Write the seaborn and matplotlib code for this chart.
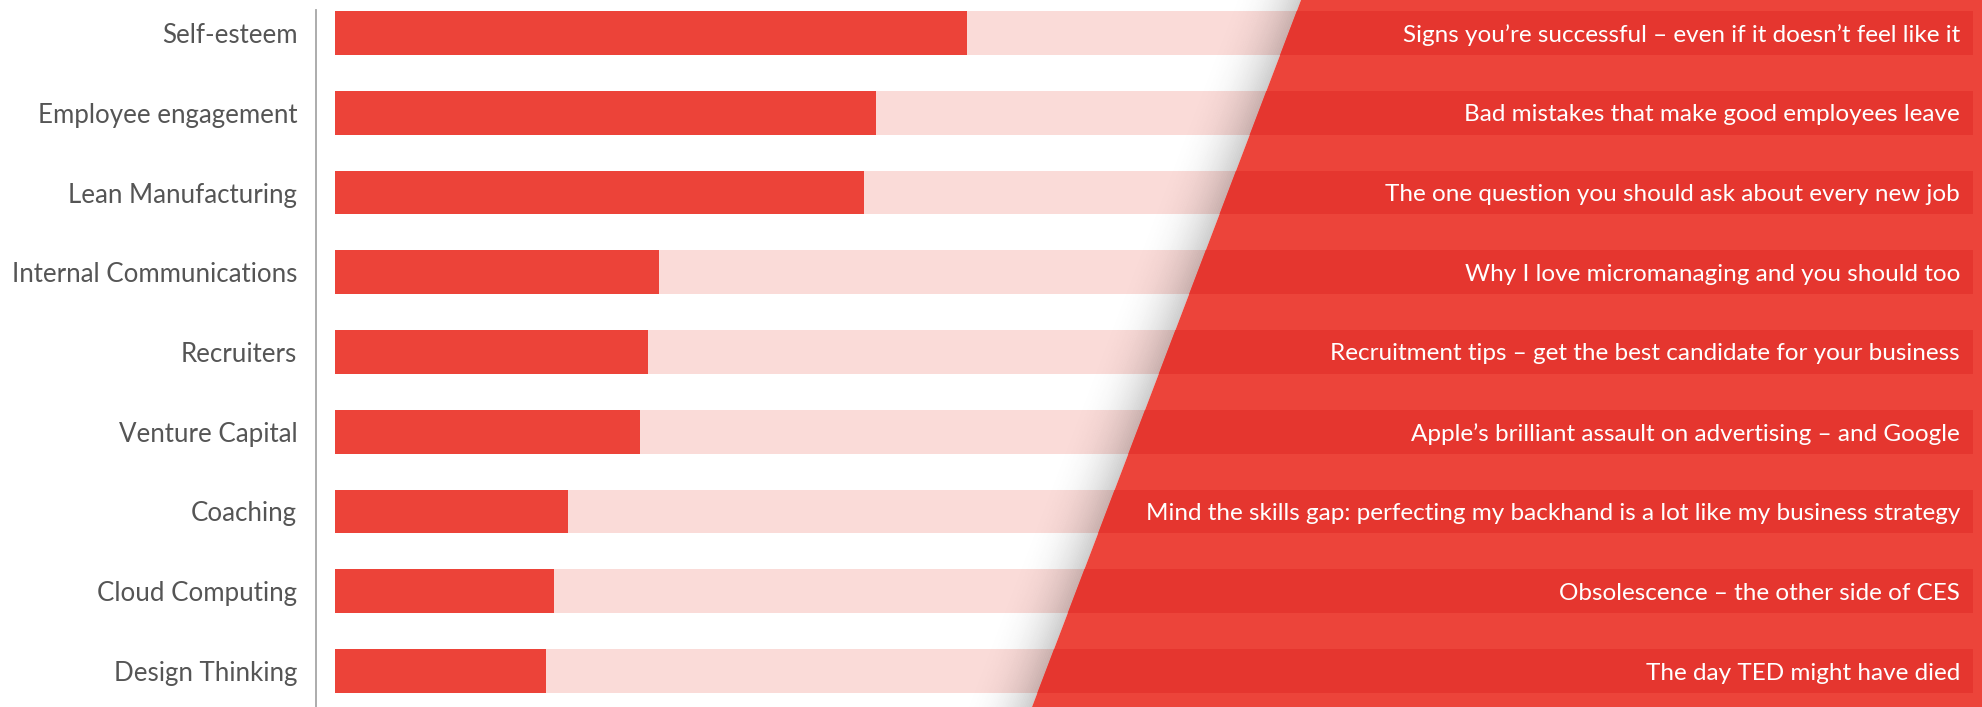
import numpy as np
import pandas as pd
import matplotlib
matplotlib.use("Agg")
import matplotlib.pyplot as plt
from matplotlib.patches import Polygon
from matplotlib.collections import PolyCollection
import seaborn as sns

# Topics ranked by share of reads, with the top article for each topic
topics = [
    "Self-esteem",
    "Employee engagement",
    "Lean Manufacturing",
    "Internal Communications",
    "Recruiters",
    "Venture Capital",
    "Coaching",
    "Cloud Computing",
    "Design Thinking",
]
shares = [38.6, 33.0, 32.3, 19.8, 19.1, 18.6, 14.2, 13.4, 12.9]
scale_max = 100
top_articles = [
    "Signs you’re successful – even if it doesn’t feel like it",
    "Bad mistakes that make good employees leave",
    "The one question you should ask about every new job",
    "Why I love micromanaging and you should too",
    "Recruitment tips – get the best candidate for your business",
    "Apple’s brilliant assault on advertising – and Google",
    "Mind the skills gap: perfecting my backhand is a lot like my business strategy",
    "Obsolescence – the other side of CES",
    "The day TED might have died",
]

df = pd.DataFrame({"topic": topics, "share": shares,
                   "full": [scale_max] * len(topics)})

RED = "#EC4339"
PINK = "#FADBD8"
PANEL = "#EC443A"
BAND = "#E5362F"
LABEL = "#555555"

sns.set_theme(style="white")
plt.rcParams["font.family"] = ["Lato", "DejaVu Sans"]

W, H, DPI = 1982, 707, 100
fig = plt.figure(figsize=(W / DPI, H / DPI), dpi=DPI)
ax = fig.add_axes([316 / W, 0, 1 - 316 / W, 1])

bar_kw = dict(saturation=1, width=0.55, orient="h", ax=ax,
              linewidth=0, edgecolor="none")

# background track and value bars
sns.barplot(data=df, x="full", y="topic", color=PINK, zorder=1, **bar_kw)
sns.barplot(data=df, x="share", y="topic", color=RED, zorder=1.5, **bar_kw)


def fig_xy(px, py_top):
    """pixel position (from top-left) -> figure fraction"""
    return (px / W, 1 - py_top / H)


# slanted panel on the right
x_top, x_bot = 1301.0, 1032.0
panel_verts = [fig_xy(x_top, 0), fig_xy(x_bot, H), fig_xy(W + 2, H),
               fig_xy(W + 2, 0)]

# soft drop shadow along the slanted edge
n_steps = 40
reach = 72.0
strips, alphas = [], []
for i in range(n_steps):
    d0 = reach * i / n_steps
    d1 = reach * (i + 1) / n_steps
    strips.append([fig_xy(x_top - d1, 0), fig_xy(x_bot - d1, H),
                   fig_xy(x_bot - d0, H), fig_xy(x_top - d0, 0)])
    t = 1 - (d0 + d1) / 2 / reach
    alphas.append(0.2 * t ** 2.2)
shadow = PolyCollection(strips, transform=fig.transFigure,
                        facecolors=[(0, 0, 0, a) for a in alphas],
                        edgecolors="none", linewidths=0, zorder=2)
ax.add_collection(shadow)

panel = Polygon(panel_verts, closed=True, transform=fig.transFigure,
                facecolor=PANEL, edgecolor="none", linewidth=0, zorder=3)
ax.add_patch(panel)

# darker track bands visible inside the panel
n_before = len(ax.patches)
sns.barplot(data=df, x="full", y="topic", color=BAND, zorder=4, **bar_kw)
for p in ax.patches[n_before:]:
    p.set_zorder(4)
    p.set_linewidth(0)
    p.set_clip_path(panel)

# article titles, right aligned within the bands
px_per_unit = (1973 - 335) / scale_max
x0 = -(335 - 316) / px_per_unit
x1 = (W - 335) / px_per_unit
title_x = (1960 - 335) / px_per_unit
for i, title in enumerate(top_articles):
    ax.text(title_x, i, title, ha="right", va="center_baseline",
            color="white", fontsize=17.5, zorder=6)

pitch = 79.75
ax.set_xlim(x0, x1)
ax.set_ylim((H - 33) / pitch, -33 / pitch)

ax.set_xlabel("")
ax.set_ylabel("")
ax.set_xticks([])
ax.tick_params(axis="y", length=0, pad=13.5, labelsize=18.6,
               labelcolor=LABEL)
for s in ["top", "right", "bottom"]:
    ax.spines[s].set_visible(False)
ax.spines["left"].set_color("#A6A6A6")
ax.spines["left"].set_linewidth(1.3)
ax.spines["left"].set_bounds((H - 33) / pitch, (10 - 33) / pitch)
ax.grid(False)

fig.savefig("out.png", dpi=DPI)
